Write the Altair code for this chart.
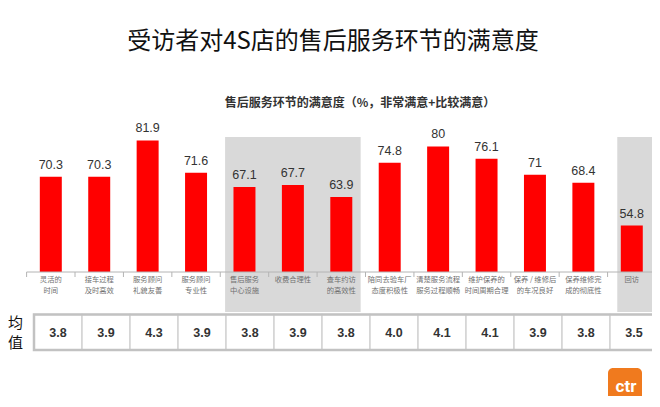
import altair as alt
import pandas as pd

# ---- data ----
categories = [
    "灵活的\n时间", "接车过程\n及时高效", "服务顾问\n礼貌友善", "服务顾问\n专业性",
    "售后服务\n中心设施", "收费合理性", "查车约访\n的高效性", "陪同去验车厂\n态度积极性",
    "清楚服务流程\n服务过程顺畅", "维护保养的\n时间周期合理", "保养 / 维修后\n的车况良好",
    "保养维修完\n成的彻底性", "回访",
]
satisfaction = [70.3, 70.3, 81.9, 71.6, 67.1, 67.7, 63.9, 74.8, 80, 76.1, 71, 68.4, 54.8]
mean_scores = [3.8, 3.9, 4.3, 3.9, 3.8, 3.9, 3.8, 4.0, 4.1, 4.1, 3.9, 3.8, 3.5]
highlight_start = [4.1, 12.2]
highlight_end = [6.9, 13.1]
tick_positions = list(range(14))

title_text = "受访者对4S店的售后服务环节的满意度"
subtitle_text = "售后服务环节的满意度（%，非常满意+比较满意）"
row_label = ["均", "值"]

df = pd.DataFrame({"cat": categories, "val": satisfaction, "mean": mean_scores, "tcat": categories})
bands_df = pd.DataFrame({"u0": highlight_start, "u1": highlight_end})
ticks_df = pd.DataFrame({"u": tick_positions})
one = pd.DataFrame({"a": [0]})

CJK = "Noto Sans CJK SC"
NUM = "Liberation Sans"

xband = alt.Scale(domain=categories, range=[18.6, 648], paddingInner=0.546, paddingOuter=0.273)
yscale = alt.Scale(domain=[40, 100], range=[264, 75.6], zero=False, nice=False)
uscale = alt.Scale(domain=[0, 13], range=[18.6, 648], zero=False, nice=False)
tscale = alt.Scale(domain=categories, range=[26, 650], paddingInner=0, paddingOuter=0)

X = alt.X("cat:N", scale=xband, sort=categories, axis=None)
Y = alt.Y("val:Q", scale=yscale, axis=None)
TX = alt.X("tcat:N", scale=tscale, sort=categories, axis=None)

bands = alt.Chart(bands_df).mark_rect(color="#d9d9d9").encode(
    x=alt.X("u0:Q", scale=uscale, axis=None), x2="u1:Q",
    y=alt.value(129), y2=alt.value(304))

bars = alt.Chart(df).mark_bar(color="#ff0000").encode(x=X, y=Y, y2=alt.datum(40))

vlabels = alt.Chart(df).mark_text(baseline="bottom", dy=-5, fontSize=12.5, font=NUM, color="#333333").encode(
    x=X, y=Y, text=alt.Text("val:Q", format="~g"))

baseline = alt.Chart(one).mark_rule(color="#b4b4b4", strokeWidth=1).encode(
    x=alt.value(18.6), x2=alt.value(648), y=alt.value(264))

ticks = alt.Chart(ticks_df).mark_rule(color="#b4b4b4", strokeWidth=1).encode(
    x=alt.X("u:Q", scale=uscale, axis=None), y=alt.value(264), y2=alt.value(269))

clabels = alt.Chart(df).mark_text(baseline="top", lineBreak="\n", fontSize=7.3, lineHeight=10.5,
                                  font=CJK, color="#707070").encode(
    x=X, y=alt.value(268), text="cat:N")

cells = alt.Chart(df).mark_rect(fill="white", stroke="#d4d4d4", strokeWidth=1.5).encode(
    x=TX, y=alt.value(306.5), y2=alt.value(342))

border = alt.Chart(one).mark_rect(fillOpacity=0, stroke="#c2c2c2", strokeWidth=2.5).encode(
    x=alt.value(26), x2=alt.value(650), y=alt.value(306.5), y2=alt.value(342))

tvals = alt.Chart(df).mark_text(fontSize=12.5, fontWeight="bold",
                                font="Liberation Sans Narrow, Arial Narrow, Liberation Sans",
                                color="#333333").encode(
    x=TX, y=alt.value(325), text=alt.Text("mean:Q", format=".1f"))

rl1 = alt.Chart(one).mark_text(align="left", baseline="middle", fontSize=15, font=CJK, color="#111111").encode(
    x=alt.value(0), y=alt.value(315), text=alt.value(row_label[0]))
rl2 = alt.Chart(one).mark_text(align="left", baseline="middle", fontSize=15, font=CJK, color="#111111").encode(
    x=alt.value(0), y=alt.value(335), text=alt.value(row_label[1]))

title = alt.Chart(one).mark_text(align="center", baseline="middle", fontSize=24, font=CJK, color="#111111").encode(
    x=alt.value(325), y=alt.value(34), text=alt.value(title_text))
subtitle = alt.Chart(one).mark_text(align="center", baseline="middle", fontSize=12, fontWeight="bold",
                                    font=CJK, color="#333333").encode(
    x=alt.value(352), y=alt.value(95), text=alt.value(subtitle_text))

logo = alt.Chart(one).mark_rect(color="#f07a1e", cornerRadius=5).encode(
    x=alt.value(600), x2=alt.value(634), y=alt.value(360), y2=alt.value(395))
logo_t = alt.Chart(one).mark_text(align="center", baseline="middle", fontSize=17, fontWeight="bold",
                                  font="Roboto", color="white").encode(
    x=alt.value(618), y=alt.value(379), text=alt.value("ctr"))

chart = alt.layer(
    bands, bars, vlabels, baseline, ticks, clabels, cells, border, tvals,
    rl1, rl2, title, subtitle, logo, logo_t
).resolve_scale(x="independent").properties(
    width=644, height=388, padding=0, autosize=alt.AutoSizeParams(type="none")
).configure_view(stroke=None)

chart.save("out.html", embed_options={"renderer": "svg", "actions": False})
